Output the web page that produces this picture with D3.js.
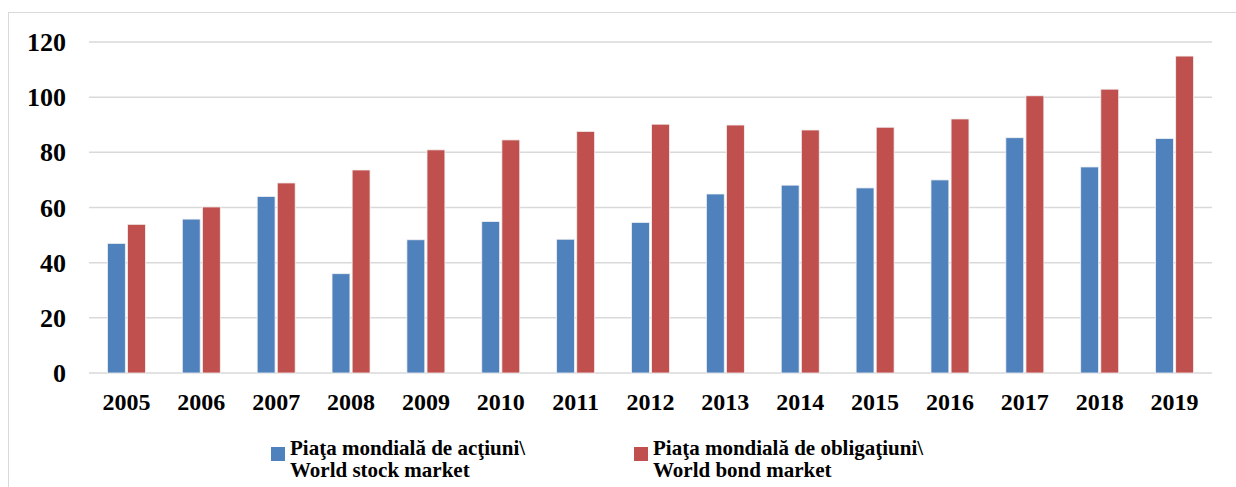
<!DOCTYPE html>
<html>
<head>
<meta charset="utf-8">
<script src="https://cdnjs.cloudflare.com/ajax/libs/d3/7.8.5/d3.min.js"></script>
<style>
  body { margin: 0; background: #fff; overflow: hidden; }
</style>
</head>
<body>
<div id="chart"></div>
<script>
const years = ["2005", "2006", "2007", "2008", "2009", "2010", "2011", "2012", "2013", "2014", "2015", "2016", "2017", "2018", "2019"];
const stock = [47, 55.8, 64, 36, 48.3, 54.9, 48.5, 54.6, 64.9, 68.1, 67.1, 70, 85.3, 74.7, 85];
const bonds = [53.9, 60.2, 68.9, 73.6, 80.9, 84.5, 87.6, 90.2, 89.9, 88.1, 89.1, 92.1, 100.5, 102.9, 114.9];
const yTicks = [0, 20, 40, 60, 80, 100, 120];
const seriesNames = [
    ["Piaţa mondială de acţiuni\\", "World stock market"],
    ["Piaţa mondială de obligaţiuni\\", "World bond market"]
];
const colors = ["#4f81bd", "#c0504d"];
const fontFamily = '"Liberation Serif"';

const width = 1236, height = 487;
const plotLeft = 89, plotRight = 1212, plotTop = 42, plotBottom = 373;

const svg = d3.select("#chart")
    .append("svg")
    .attr("width", width)
    .attr("height", height);

// outer chart border
svg.append("rect")
    .attr("x", 8.5).attr("y", 12.5)
    .attr("width", width).attr("height", height)
    .attr("fill", "none")
    .attr("stroke", "#d9d9d9")
    .attr("stroke-width", 1);

const x = d3.scaleBand()
    .domain(years)
    .range([plotLeft, plotRight]);

const xInner = d3.scaleBand()
    .domain([0, 1])
    .range([x.bandwidth() / 2 - 19, x.bandwidth() / 2 + 19])
    .paddingInner(0.11);

const y = d3.scaleLinear()
    .domain([0, 120])
    .range([plotBottom, plotTop]);

// gridlines
svg.append("g")
    .selectAll("line")
    .data(yTicks)
    .enter().append("line")
    .attr("x1", plotLeft)
    .attr("x2", plotRight)
    .attr("y1", d => y(d))
    .attr("y2", d => y(d))
    .attr("stroke", "#d9d9d9")
    .attr("stroke-width", 1.5);

// y labels
svg.append("g")
    .selectAll("text")
    .data(yTicks)
    .enter().append("text")
    .attr("x", 66)
    .attr("y", d => y(d))
    .attr("dy", "0.35em")
    .attr("text-anchor", "end")
    .attr("font-size", 26)
    .attr("font-weight", "bold")
    .style("font-family", fontFamily)
    .text(d => d);

// bars
const series = [stock, bonds];
series.forEach((vals, si) => {
    svg.append("g")
        .selectAll("rect")
        .data(vals)
        .enter().append("rect")
        .attr("x", (d, i) => x(years[i]) + xInner(si))
        .attr("y", d => y(d))
        .attr("width", xInner.bandwidth())
        .attr("height", d => y(0) - y(d))
        .attr("fill", colors[si])
        .attr("stroke", "#f2f2f2")
        .attr("stroke-width", 0.8);
});

// x labels
svg.append("g")
    .selectAll("text")
    .data(years)
    .enter().append("text")
    .attr("x", d => x(d) + x.bandwidth() / 2)
    .attr("y", 409.5)
    .attr("text-anchor", "middle")
    .attr("font-size", 24)
    .attr("font-weight", "bold")
    .style("font-family", fontFamily)
    .text(d => d);

// legend
const legendX = [271, 634];
seriesNames.forEach((lines, i) => {
    const g = svg.append("g").attr("transform", `translate(${legendX[i]}, 0)`);
    g.append("rect")
        .attr("x", 0).attr("y", 447)
        .attr("width", 14).attr("height", 14)
        .attr("fill", colors[i]);
    g.selectAll("text")
        .data(lines)
        .enter().append("text")
        .attr("x", 19)
        .attr("y", (d, j) => 455 + j * 22)
        .attr("font-size", 21)
        .attr("font-weight", "bold")
        .style("font-family", fontFamily)
        .text(d => d);
});
</script>
</body>
</html>
